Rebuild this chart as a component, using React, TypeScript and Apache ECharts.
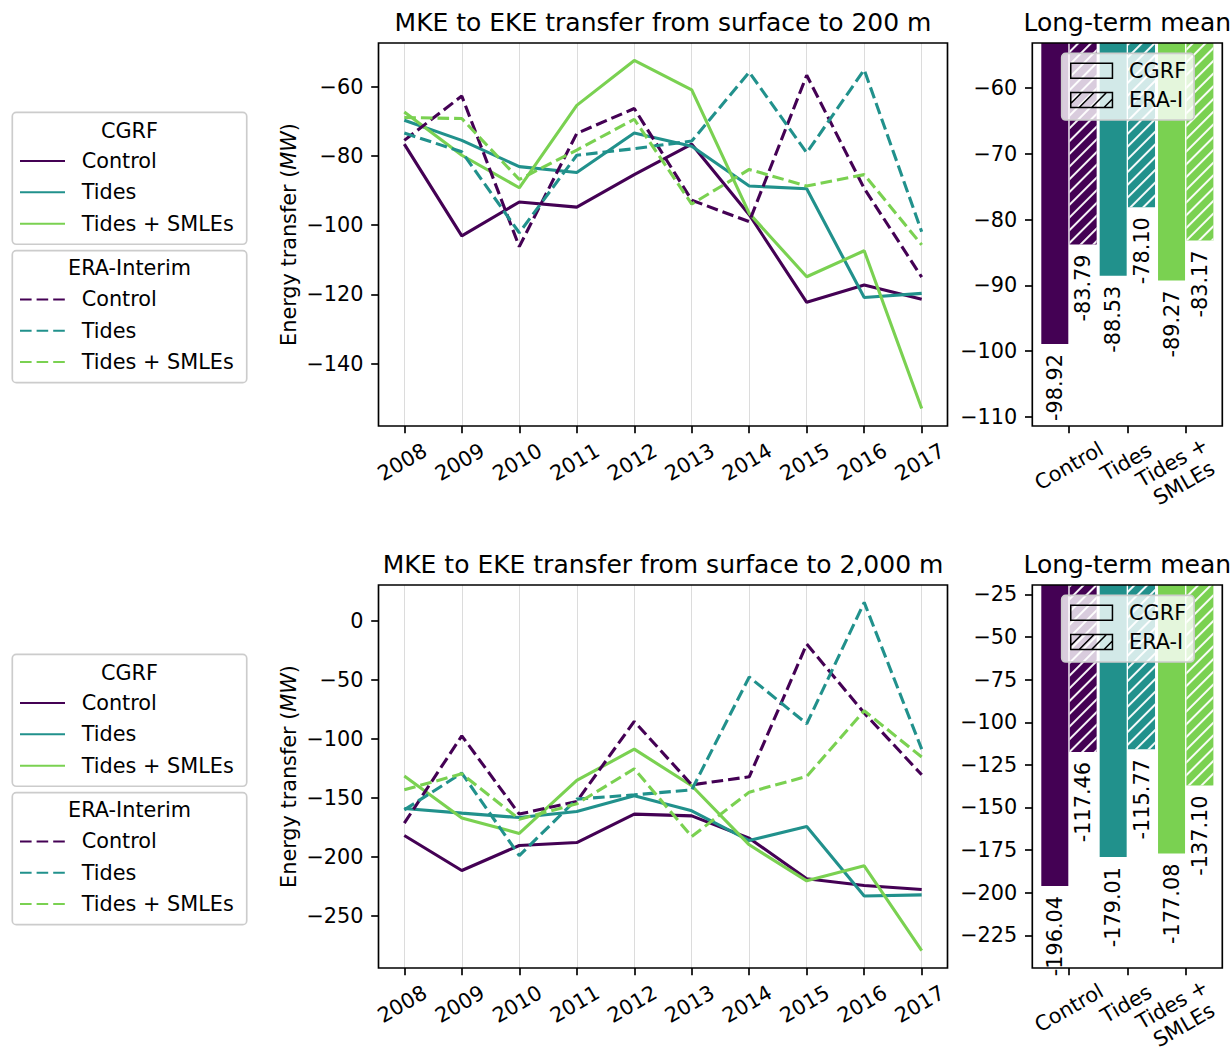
import React, { useEffect, useRef } from 'react';
import * as echarts from 'echarts';

// ---------- data ----------
const years = [2008, 2009, 2010, 2011, 2012, 2013, 2014, 2015, 2016, 2017];
const experiments = ['Control', 'Tides', 'Tides + SMLEs'];
const barCategories = ['Control', 'Tides', 'Tides +\nSMLEs'];
const expColors = ['#440154', '#21918c', '#7ad151'];

// surface to 200 m
const cgrfControl200 = [-76.6, -103.1, -93.3, -94.8, -85.4, -76.6, -97.0, -122.3, -117.3, -121.4];
const cgrfTides200 = [-69.7, -75.5, -83.1, -84.8, -73.4, -77.2, -88.7, -89.5, -120.9, -119.7];
const cgrfTidesSmle200 = [-67.3, -79.8, -89.2, -65.4, -52.4, -60.9, -96.6, -114.9, -107.4, -153.0];
const eraControl200 = [-75.5, -62.7, -106.2, -73.5, -66.3, -92.8, -99.0, -56.7, -89.4, -115.0];
const eraTides200 = [-73.4, -78.8, -102.2, -79.8, -77.9, -75.7, -55.8, -79.1, -55.1, -101.9];
const eraTidesSmle200 = [-68.9, -69.2, -86.8, -78.3, -69.4, -93.9, -83.9, -88.7, -85.4, -105.7];

// surface to 2,000 m
const cgrfControl2000 = [-181.9, -211.6, -190.4, -187.9, -163.8, -165.3, -184.2, -218.6, -224.3, -227.7];
const cgrfTides2000 = [-159.0, -163.0, -166.7, -161.6, -148.3, -161.0, -186.2, -174.3, -233.1, -232.2];
const cgrfTidesSmle2000 = [-131.6, -167.0, -180.2, -135.3, -108.8, -139.8, -189.8, -220.3, -207.6, -279.4];
const eraControl2000 = [-171.5, -97.5, -163.8, -153.1, -85.3, -139.0, -132.2, -19.8, -78.2, -130.5];
const eraTides2000 = [-160.2, -129.1, -198.9, -151.1, -147.5, -143.2, -47.7, -87.3, 15.5, -108.8];
const eraTidesSmle2000 = [-143.2, -129.7, -168.1, -155.1, -125.4, -182.8, -145.2, -131.9, -76.3, -115.5];

// long-term means
const meanCgrf200 = [-98.92, -88.53, -89.27];
const meanEra200 = [-83.79, -78.1, -83.17];
const meanCgrf2000 = [-196.04, -179.01, -177.08];
const meanEra2000 = [-117.46, -115.77, -137.1];

// tick labels
const lineTicks200 = [-140, -120, -100, -80, -60];
const lineTicks2000 = [-250, -200, -150, -100, -50, 0];
const barTicks200 = [-110, -100, -90, -80, -70, -60];
const barTicks2000 = [-225, -200, -175, -150, -125, -100, -75, -50, -25];

const titles200 = ['MKE to EKE transfer from surface to 200 m', 'Long-term mean'];
const titles2000 = ['MKE to EKE transfer from surface to 2,000 m', 'Long-term mean'];

// ---------- styling ----------
const FONT = 'DejaVu Sans';
const FS = 20.8;
const AX = 1.67;
const W = 1231;

const minusFmt = (v: number) => (v < 0 ? '\u2212' + String(-v) : String(v));

function App() {
  const ref = useRef<HTMLDivElement>(null);

  useEffect(() => {
    if (!ref.current) return;
    const chart = echarts.init(ref.current, undefined, { renderer: 'svg' });

    const panels = [
      {
        dy: 0,
        cgrf: [cgrfControl200, cgrfTides200, cgrfTidesSmle200],
        era: [eraControl200, eraTides200, eraTidesSmle200],
        meanC: meanCgrf200, meanE: meanEra200,
        lt: lineTicks200, bt: barTicks200, titles: titles200,
      },
      {
        dy: 542,
        cgrf: [cgrfControl2000, cgrfTides2000, cgrfTidesSmle2000],
        era: [eraControl2000, eraTides2000, eraTidesSmle2000],
        meanC: meanCgrf2000, meanE: meanEra2000,
        lt: lineTicks2000, bt: barTicks2000, titles: titles2000,
      },
    ];

    const grid: any[] = [];
    const xAxis: any[] = [];
    const yAxis: any[] = [];
    const series: any[] = [];
    const legend: any[] = [];
    const graphic: any[] = [];

    const axTick = (cv?: number[]) => ({
      show: true, length: 7.3, inside: false,
      lineStyle: { color: '#000', width: AX },
      ...(cv ? { customValues: cv } : {}),
    });
    const lblStyle = { fontFamily: FONT, fontSize: FS, color: '#000' };

    const decal = {
      symbol: 'rect', symbolSize: 1, color: 'rgba(255,255,255,0.95)',
      dashArrayX: [1, 0], dashArrayY: [2, 6.8], rotation: -Math.PI / 4,
    };

    // rich styles to place rotated category labels like matplotlib does
    const barRich = {
      c: { ...lblStyle, lineHeight: 24 },
      t: { ...lblStyle, lineHeight: 32, padding: [0, 0, 8, 2] },
      s1: { ...lblStyle, lineHeight: 28, padding: [4, 20, 0, 0] },
      s2: { ...lblStyle, lineHeight: 24, padding: [0, 20, 0, 0] },
    };
    const barLabelFmt = (v: string, i: number) => {
      const parts = String(v).split('\n');
      if (parts.length > 1) return `{s1|${parts[0]}}\n{s2|${parts[1]}}`;
      return i === 0 ? `{c|${v}}` : `{t|${v}}`;
    };

    panels.forEach((p, pi) => {
      const top = 43 + p.dy;
      const h = 383;
      const lg = pi * 2; // line grid index
      const bg = pi * 2 + 1; // bar grid index

      // line y range (matplotlib-like 5% margins)
      const all = [...p.cgrf.flat(), ...p.era.flat()];
      const mn = Math.min(...all), mx = Math.max(...all);
      const r = mx - mn;
      const lmin = mn - 0.05 * r, lmax = mx + 0.05 * r;

      grid.push({ left: 404.3, right: W - 921.7, top, height: h, containLabel: false, outerBoundsMode: 'none' });
      grid.push({ left: 1039.8, right: W - 1214.9, top, height: h, containLabel: false, outerBoundsMode: 'none' });

      xAxis.push({
        type: 'value', gridIndex: lg, min: 2008, max: 2017, interval: 1,
        axisLine: { show: false, onZero: false }, axisTick: axTick(),
        axisLabel: {
          ...lblStyle, formatter: (v: number) => String(v), rotate: 30, align: 'center',
          verticalAlign: 'middle', margin: 35, padding: [0, 4.6, 0, 0],
        },
        splitLine: { show: true, lineStyle: { color: '#dcdcdc', width: 1 } },
      });
      yAxis.push({
        type: 'value', gridIndex: lg, min: lmin, max: lmax, offset: 404.3 - 378.5,
        axisLine: { show: false }, axisTick: axTick(p.lt),
        axisLabel: { ...lblStyle, customValues: p.lt, formatter: minusFmt, margin: 15 },
        splitLine: { show: false },
        name: '{a|Energy transfer (}{b|MW}{a|)}', nameLocation: 'middle', nameGap: 77.5,
        nameTextStyle: {
          lineHeight: 24,
          rich: {
            a: { ...lblStyle, lineHeight: 24 },
            b: { ...lblStyle, fontStyle: 'italic', lineHeight: 24 },
          },
        },
      });

      // bar y range
      const bAll = [...p.meanC, ...p.meanE];
      const bmn = Math.min(...bAll), bmx = Math.max(...bAll);
      const br = bmx - bmn;
      xAxis.push({
        type: 'category', gridIndex: bg, data: barCategories,
        axisLine: { show: false, onZero: false }, axisTick: { ...axTick(), alignWithLabel: true },
        axisLabel: {
          ...lblStyle, interval: 0, rotate: 30, align: 'center', verticalAlign: 'middle',
          margin: 40, lineHeight: 24, formatter: barLabelFmt, rich: barRich,
        },
        splitLine: { show: false },
      });
      yAxis.push({
        type: 'value', gridIndex: bg, min: bmn - 0.6 * br, max: bmx + 1.2 * br, offset: 1039.8 - 1032.3,
        axisLine: { show: false }, axisTick: axTick(p.bt),
        axisLabel: { ...lblStyle, customValues: p.bt, formatter: minusFmt, margin: 15 },
        splitLine: { show: false },
      });

      // line series
      experiments.forEach((e, i) => {
        series.push({
          type: 'line', name: 'CGRF ' + e, xAxisIndex: lg, yAxisIndex: lg,
          data: years.map((y, k) => [y, p.cgrf[i][k]]),
          symbol: 'none', showSymbol: false, clip: false,
          lineStyle: { color: expColors[i], width: 3.1, type: 'solid' },
          itemStyle: { color: expColors[i] },
        });
      });
      experiments.forEach((e, i) => {
        series.push({
          type: 'line', name: 'ERA ' + e, xAxisIndex: lg, yAxisIndex: lg,
          data: years.map((y, k) => [y, p.era[i][k]]),
          symbol: 'none', showSymbol: false, clip: false,
          lineStyle: { color: expColors[i], width: 3.1, type: [11.6, 5] },
          itemStyle: { color: expColors[i] },
        });
      });

      const barLabel = {
        show: true, position: 'bottom', distance: 10, rotate: 90, align: 'right', verticalAlign: 'middle',
        ...lblStyle, formatter: (q: any) => Number(q.value).toFixed(2),
      };
      series.push({
        type: 'bar', name: 'CGRF', xAxisIndex: bg, yAxisIndex: bg, barWidth: 27, barGap: '5%',
        data: p.meanC.map((v, i) => ({ value: v, itemStyle: { color: expColors[i] } })),
        label: barLabel,
      });
      series.push({
        type: 'bar', name: 'ERA-I', xAxisIndex: bg, yAxisIndex: bg, barWidth: 27, barGap: '5%',
        itemStyle: { decal },
        data: p.meanE.map((v, i) => ({ value: v, itemStyle: { color: expColors[i], decal } })),
        label: barLabel,
      });

      // legends (line)
      const lineLegend = (names: string[], ltop: number) => ({
        orient: 'vertical', left: 12.3, top: ltop, data: names,
        itemWidth: 45, itemHeight: 24, itemGap: 7.33,
        padding: [36.7, 13, 8.6, 6.7],
        backgroundColor: 'rgba(255,255,255,0.8)', borderColor: '#cccccc', borderWidth: AX, borderRadius: 4,
        formatter: (n: string) => n.replace(/^(CGRF|ERA) /, ''),
        textStyle: { ...lblStyle, lineHeight: 24, padding: [0, 0, 0, 11.7] },
        itemStyle: { opacity: 0 },
        selectedMode: false,
      });
      legend.push(lineLegend(experiments.map((e) => 'CGRF ' + e), 112.3 + p.dy));
      legend.push(lineLegend(experiments.map((e) => 'ERA ' + e), 250.7 + p.dy));
      // legend (bars)
      legend.push({
        orient: 'vertical', left: 1061.7, top: 53.3 + p.dy,
        data: [
          { name: 'CGRF', icon: 'path://M0,0H42V15H0Z' },
          { name: 'ERA-I', icon: 'path://M0,0H42V15H0Z M0,11L11,0 M8.5,15L23.5,0 M21,15L36,0 M33.5,15L42,6.5' },
        ],
        itemWidth: 41.7, itemHeight: 15, itemGap: 7.3,
        padding: [6.4, 8, 9, 8.3],
        backgroundColor: 'rgba(255,255,255,0.8)', borderColor: '#cccccc', borderWidth: AX, borderRadius: 4,
        textStyle: { ...lblStyle, lineHeight: 22, padding: [0, 0, 0, 11.6] },
        itemStyle: { color: 'rgba(0,0,0,0)', borderColor: '#000', borderWidth: 1.5, decal: 'none' },
        selectedMode: false,
      });

      // frames
      graphic.push({
        type: 'rect', silent: true, z: 100,
        shape: { x: 378.5, y: top, width: 947.5 - 378.5, height: h },
        style: { fill: 'none', stroke: '#000', lineWidth: AX },
      });
      graphic.push({
        type: 'rect', silent: true, z: 100,
        shape: { x: 1032.3, y: top, width: 1222.3 - 1032.3, height: h },
        style: { fill: 'none', stroke: '#000', lineWidth: AX },
      });
      // titles
      const txt = (text: string, x: number, y: number, size: number) => ({
        type: 'text', silent: true, z: 100, x, y,
        style: {
          text, fill: '#000', fontFamily: FONT, fontSize: size,
          textAlign: 'center', textVerticalAlign: 'middle', align: 'center', verticalAlign: 'middle',
        },
      });
      graphic.push(txt(p.titles[0], 663, 22 + p.dy, 25));
      graphic.push(txt(p.titles[1], 1127.3, 22 + p.dy, 25));
      graphic.push(txt('CGRF', 129.5, 130.7 + p.dy, FS));
      graphic.push(txt('ERA-Interim', 129.5, 268.3 + p.dy, FS));
    });

    chart.setOption({
      animation: false,
      backgroundColor: '#ffffff',
      textStyle: { fontFamily: FONT },
      grid, xAxis, yAxis, series, legend, graphic,
    });

    return () => chart.dispose();
  }, []);

  return (
    <div
      ref={ref}
      style={{ position: 'absolute', left: 0, top: 0, width: 1231, height: 1053 }}
    />
  );
}

export default App;
